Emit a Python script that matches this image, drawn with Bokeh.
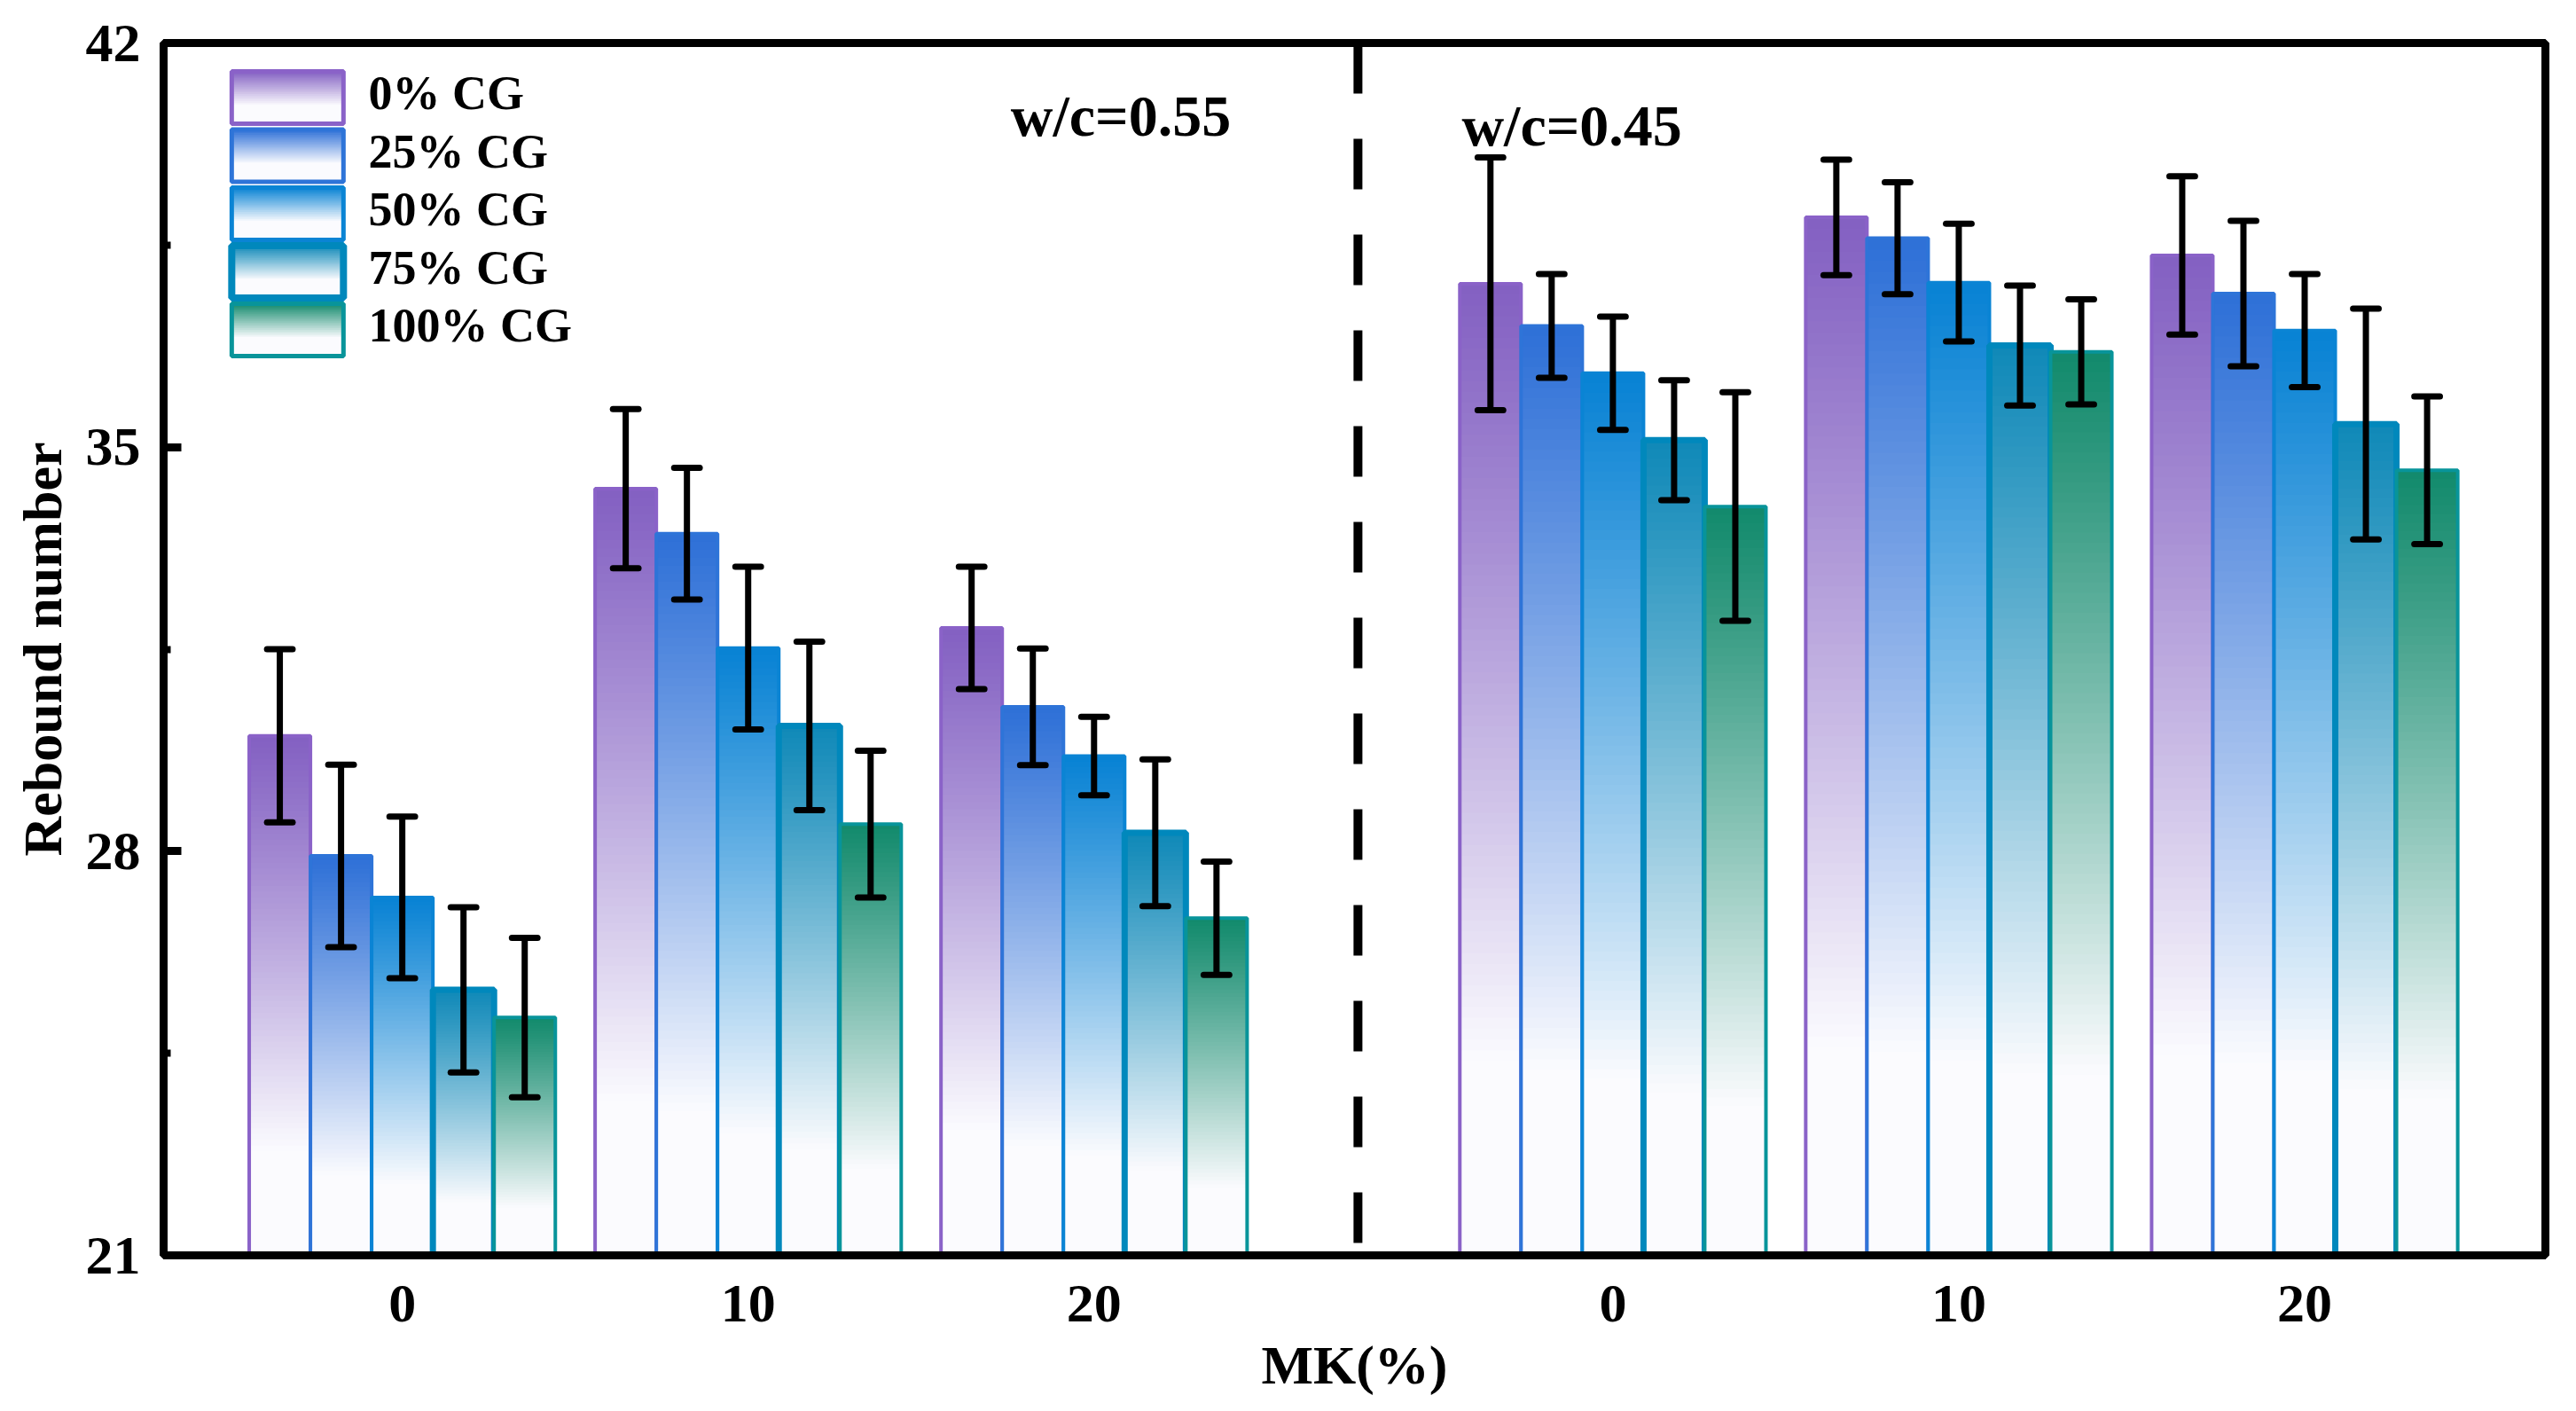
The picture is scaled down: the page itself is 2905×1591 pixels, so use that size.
import numpy as np
from bokeh.plotting import figure
from bokeh.models import ColumnDataSource, Range1d, FixedTicker, SingleIntervalTicker, Span
from bokeh.core.properties import value
from bokeh.embed import file_html
from bokeh.resources import INLINE

# data: groups are MK = 0, 10, 20 at w/c=0.55, then MK = 0, 10, 20 at w/c=0.45
mk_labels = ["0", "10", "20", "0", "10", "20"]
series = ["0% CG", "25% CG", "50% CG", "75% CG", "100% CG"]

mean_0 = [30.00, 34.28, 31.87, 37.83, 38.98, 38.32]
mean_25 = [27.92, 33.50, 30.50, 37.10, 38.62, 37.66]
mean_50 = [27.20, 31.52, 29.65, 36.28, 37.85, 37.02]
mean_75 = [25.60, 30.17, 28.32, 35.12, 36.76, 35.40]
mean_100 = [25.12, 28.47, 26.84, 33.97, 36.65, 34.60]

err_0 = [1.50, 1.38, 1.06, 2.19, 1.00, 1.37]
err_25 = [1.58, 1.14, 1.01, 0.90, 0.97, 1.26]
err_50 = [1.40, 1.41, 0.68, 0.98, 1.02, 0.98]
err_75 = [1.43, 1.46, 1.27, 1.04, 1.04, 2.00]
err_100 = [1.38, 1.27, 0.98, 1.98, 0.91, 1.28]

means = [mean_0, mean_25, mean_50, mean_75, mean_100]
errs = [err_0, err_25, err_50, err_75, err_100]

# styles
FONT = "Liberation Serif"
top_colors = ["#8360c2", "#2e70d7", "#0882d4", "#1089b8", "#128a6c"]
edge_colors = ["#8a62c8", "#2e74d8", "#0a84d4", "#0088bc", "#08949a"]
edge_widths = [4, 4, 4, 7, 4]
group_pos = [1, 2, 3, 4.5, 5.5, 6.5]
bar_w = 0.177
cap_w = 0.074
base = 21
WHITE = (251, 251, 254)
TXT_SHIFT = 0.34  # lift for text baselines


def hex2rgb(h):
    h = h.lstrip("#")
    return tuple(int(h[i:i + 2], 16) for i in (0, 2, 4))


def mix(col, f):
    c = hex2rgb(col)
    r = [int(round(c[j] + (WHITE[j] - c[j]) * f)) for j in range(3)]
    return "#%02x%02x%02x" % tuple(r)


p = figure(width=2893, height=1583, output_backend="svg", toolbar_location=None, tools="",
           title=None, x_range=Range1d(0.31, 7.196), y_range=Range1d(21, 42),
           min_border_left=184, min_border_right=23, min_border_top=48, min_border_bottom=168)
p.grid.visible = False
p.outline_line_color = "black"
p.outline_line_width = 9
p.background_fill_color = "white"

nsl = 90
for k in range(5):
    xs = [g + (k - 2) * bar_w for g in group_pos]
    L, R, T, C = [], [], [], []
    for x, m in zip(xs, means[k]):
        for i in range(nsl):
            t = (i + 0.5) / nsl
            f = min(1.0, t / 0.8) ** 1.1
            L.append(x - bar_w / 2)
            R.append(x + bar_w / 2)
            T.append(m - (m - base) * i / nsl)
            C.append(mix(top_colors[k], f))
    p.quad(left=L, right=R, top=T, bottom=base, fill_color=C, line_color=None)
    p.quad(left=[x - bar_w / 2 for x in xs], right=[x + bar_w / 2 for x in xs], top=means[k], bottom=base,
           fill_color=None, line_color=edge_colors[k], line_width=edge_widths[k])

# error bars, drawn over all bars
for k in range(5):
    xs = [g + (k - 2) * bar_w for g in group_pos]
    up = [m + e for m, e in zip(means[k], errs[k])]
    lo = [m - e for m, e in zip(means[k], errs[k])]
    p.segment(x0=xs, y0=lo, x1=xs, y1=up, line_color="black", line_width=7)
    p.segment(x0=[x - cap_w / 2 for x in xs], y0=up, x1=[x + cap_w / 2 for x in xs], y1=up,
              line_color="black", line_width=7, line_cap="round")
    p.segment(x0=[x - cap_w / 2 for x in xs], y0=lo, x1=[x + cap_w / 2 for x in xs], y1=lo,
              line_color="black", line_width=7, line_cap="round")

# divider between the two w/c sets
p.add_layout(Span(location=3.763, dimension="height", line_color="black", line_width=10, line_dash="57 51"))

# annotations
p.text(x=[2.759, 4.063], y=[40.40 + TXT_SHIFT, 40.23 + TXT_SHIFT], text=["w/c=0.55", "w/c=0.45"],
       text_font=value(FONT), text_font_style="bold", text_font_size="66px",
       text_baseline="alphabetic", text_align="left", text_color="black")

# legend with gradient swatches
px_y = 65.1
lg_x0, lg_x1, lg_tx = 0.507, 0.830, 0.902
lg_base = []
for i in range(5):
    ytop = 42 - (80 + 65.5 * i - 48) / px_y
    ybot = 42 - (139 + 65.5 * i - 48) / px_y
    lg_base.append(42 - (127 + 65.5 * i - 48) / px_y + TXT_SHIFT)
    T, C = [], []
    n = 30
    for j in range(n):
        t = (j + 0.5) / n
        f = min(1.0, t / 0.65)
        T.append(ytop - (ytop - ybot) * j / n)
        C.append(mix(top_colors[i], f))
    p.quad(left=lg_x0, right=lg_x1, top=T, bottom=ybot, fill_color=C, line_color=None)
    p.quad(left=[lg_x0], right=[lg_x1], top=[ytop], bottom=[ybot], fill_color=None,
           line_color=edge_colors[i], line_width=edge_widths[i] + 1)
p.text(x=[lg_tx] * 5, y=lg_base, text=series, text_font=value(FONT), text_font_style="bold",
       text_font_size="54px", text_baseline="alphabetic", text_align="left", text_color="black")

# axes
for ax in (p.xaxis[0], p.yaxis[0]):
    ax.axis_line_width = 9
    ax.axis_line_color = "black"
    ax.major_label_text_font = FONT
    ax.major_label_text_font_style = "bold"
    ax.major_label_text_font_size = "62px"
    ax.major_label_text_color = "black"
    ax.axis_label_text_font = FONT
    ax.axis_label_text_font_style = "bold"
    ax.axis_label_text_font_size = "62px"
    ax.axis_label_text_color = "black"

p.yaxis.ticker = SingleIntervalTicker(interval=7, num_minor_ticks=2)
p.yaxis.major_tick_in = 20
p.yaxis.major_tick_out = 0
p.yaxis.minor_tick_in = 8
p.yaxis.minor_tick_out = 0
p.yaxis.major_tick_line_width = 9
p.yaxis.minor_tick_line_width = 8
p.yaxis.major_label_standoff = 26
p.yaxis.axis_label = "Rebound number"
p.yaxis.axis_label_standoff = 12

p.xaxis.ticker = FixedTicker(ticks=group_pos)
p.xaxis.major_label_overrides = {g: lab for g, lab in zip(group_pos, mk_labels)}
p.xaxis.major_tick_in = 0
p.xaxis.major_tick_out = 0
p.xaxis.minor_tick_line_color = None
p.xaxis.major_label_standoff = 34
p.xaxis.axis_label = "MK(%)"
p.xaxis.axis_label_standoff = 12

open("out.html", "w").write(file_html(p, INLINE))
